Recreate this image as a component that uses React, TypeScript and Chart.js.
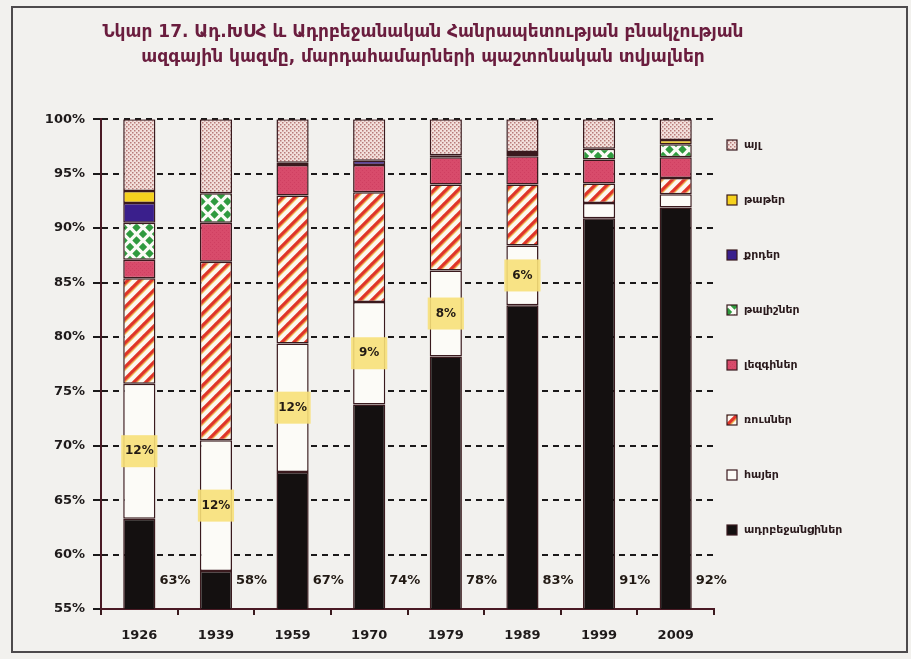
import React, { useEffect, useRef } from "react";
import { Chart, registerables } from "chart.js";

Chart.register(...registerables);

const FONT = "'DejaVu Sans', sans-serif";

const titleLines = [
  "Նկար 17. Ադ.ԽՍՀ և Ադրբեջանական Հանրապետության բնակչության",
  "ազգային կազմը, մարդահամարների պաշտոնական տվյալներ",
];

const years = ["1926", "1939", "1959", "1970", "1979", "1989", "1999", "2009"];

const seriesNames = [
  "ադրբեջանցիներ",
  "հայեր",
  "ռուսներ",
  "լեզգիներ",
  "թալիշներ",
  "քրդեր",
  "թաթեր",
  "այլ",
];

const azerbaijanis = [63.3, 58.5, 67.6, 73.8, 78.2, 82.9, 90.9, 91.9];
const armenians = [12.4, 12.0, 11.8, 9.4, 7.9, 5.5, 1.4, 1.2];
const russians = [9.7, 16.4, 13.6, 10.1, 7.9, 5.6, 1.8, 1.5];
const lezgins = [1.7, 3.6, 2.8, 2.5, 2.5, 2.6, 2.2, 1.9];
const talysh = [3.4, 2.7, null, null, null, 0.2, 1.0, 1.2];
const kurds = [1.8, null, null, 0.4, 0.2, 0.2, null, null];
const tats = [1.1, null, 0.2, null, null, null, null, 0.4];
const others = [6.6, 6.8, 4.0, 3.8, 3.3, 3.0, 2.7, 1.9];

const armenianLabels = ["12%", "12%", "12%", "9%", "8%", "6%", "", ""];
const azerbaijaniLabels = ["63%", "58%", "67%", "74%", "78%", "83%", "91%", "92%"];

const yMin = 55;
const yMax = 100;
const yStep = 5;
const azLabelLevel = 57.6;

export default function App() {
  const ref = useRef<HTMLCanvasElement>(null);

  useEffect(() => {
    const canvas = ref.current!;
    const ctx0 = canvas.getContext("2d")!;

    const makePattern = (
      w: number,
      h: number,
      draw: (g: CanvasRenderingContext2D, w: number, h: number) => void
    ) => {
      const c = document.createElement("canvas");
      c.width = w;
      c.height = h;
      const g = c.getContext("2d")!;
      draw(g, w, h);
      return ctx0.createPattern(c, "repeat")!;
    };

    const stripes = makePattern(12, 12, (g, s) => {
      g.fillStyle = "#fcf8f0";
      g.fillRect(0, 0, s, s);
      g.lineCap = "square";
      for (let k = -1; k <= 1; k++) {
        g.strokeStyle = "#f0b548";
        g.lineWidth = 1.3;
        g.beginPath();
        g.moveTo(k * s + 3, s);
        g.lineTo(k * s + s + 3, 0);
        g.stroke();
        g.strokeStyle = "#df3528";
        g.lineWidth = 3.2;
        g.beginPath();
        g.moveTo(k * s, s);
        g.lineTo(k * s + s, 0);
        g.stroke();
      }
    });

    const diamonds = makePattern(13, 13, (g, s) => {
      g.fillStyle = "#fbfbf6";
      g.fillRect(0, 0, s, s);
      g.fillStyle = "#2f9a3e";
      const dia = (cx: number, cy: number, r: number) => {
        g.beginPath();
        g.moveTo(cx, cy - r);
        g.lineTo(cx + r, cy);
        g.lineTo(cx, cy + r);
        g.lineTo(cx - r, cy);
        g.closePath();
        g.fill();
      };
      const h = s / 2;
      dia(h, h, 4.2);
      dia(0, 0, 4.2);
      dia(s, 0, 4.2);
      dia(0, s, 4.2);
      dia(s, s, 4.2);
    });

    const dots = makePattern(4, 4, (g, s) => {
      g.fillStyle = "#f3e0dc";
      g.fillRect(0, 0, s, s);
      g.fillStyle = "#b77a78";
      g.fillRect(0, 0, 1.5, 1.5);
      g.fillRect(2, 2, 1.5, 1.5);
    });

    const lezginRed = makePattern(4, 4, (g, s) => {
      g.fillStyle = "#d84b6b";
      g.fillRect(0, 0, s, s);
      g.fillStyle = "#cf3f61";
      g.fillRect(0, 0, 1, 1);
      g.fillRect(2, 2, 1, 1);
    });

    const fills: (string | CanvasPattern)[] = [
      "#141010",
      "#fcfbf7",
      stripes,
      lezginRed,
      diamonds,
      "#3a1f8c",
      "#f6d21e",
      dots,
    ];
    const values = [azerbaijanis, armenians, russians, lezgins, talysh, kurds, tats, others];

    const edge = "#3a1a1e";

    const decor = {
      id: "decor",
      beforeDraw(chart: any) {
        const c = chart.ctx;
        c.save();
        c.fillStyle = "#f2f1ee";
        c.fillRect(0, 0, chart.width, chart.height);
        c.strokeStyle = "#4d4a4c";
        c.lineWidth = 2;
        c.strokeRect(12, 7, 895, 645);
        c.restore();
      },
      afterDatasetsDraw(chart: any) {
        const c = chart.ctx;
        const yScale = chart.scales.y;
        c.save();
        const metaA = chart.getDatasetMeta(1);
        metaA.data.forEach((bar: any, i: number) => {
          const t = armenianLabels[i];
          if (!t) return;
          const cy = (bar.y + bar.base) / 2;
          const w = bar.width + 4;
          c.fillStyle = "rgba(247,224,120,0.9)";
          c.fillRect(bar.x - w / 2, cy - 16, w, 32);
          c.fillStyle = "#221a14";
          c.font = `bold 12px ${FONT}`;
          c.textAlign = "center";
          c.textBaseline = "middle";
          c.fillText(t, bar.x, cy);
        });
        const metaZ = chart.getDatasetMeta(0);
        metaZ.data.forEach((bar: any, i: number) => {
          c.fillStyle = "#221a14";
          c.font = `bold 13px ${FONT}`;
          c.textAlign = "left";
          c.textBaseline = "middle";
          c.fillText(azerbaijaniLabels[i], bar.x + bar.width / 2 + 4, yScale.getPixelForValue(azLabelLevel));
        });
        c.restore();
      },
      afterDraw(chart: any) {
        const c = chart.ctx;
        c.save();
        const ds = chart.data.datasets;
        const n = ds.length;
        for (let k = 0; k < n; k++) {
          const d = ds[n - 1 - k];
          const y = 145 + k * 55;
          c.fillStyle = d.backgroundColor;
          c.fillRect(727, y - 5, 10, 10);
          c.strokeStyle = edge;
          c.lineWidth = 1.2;
          c.strokeRect(727, y - 5, 10, 10);
          c.fillStyle = "#2a1a1c";
          c.font = `bold 11px ${FONT}`;
          c.textAlign = "left";
          c.textBaseline = "middle";
          c.fillText(d.label, 744, y);
        }
        c.restore();
      },
    };

    const chart = new Chart(canvas, {
      type: "bar",
      data: {
        labels: years,
        datasets: seriesNames.map((name, i) => ({
          label: name,
          data: values[i] as any,
          backgroundColor: fills[i] as any,
          borderColor: edge,
          borderWidth: 1.5,
          borderSkipped: false,
          barPercentage: 0.42,
          categoryPercentage: 1.0,
        })),
      },
      options: {
        responsive: false,
        animation: false,
        devicePixelRatio: 1,
        layout: { padding: { left: 0, right: 65, top: 0, bottom: 0 } },
        plugins: {
          legend: { display: false },
          tooltip: { enabled: false },
          title: {
            display: true,
            text: titleLines,
            color: "#6a1d3e",
            font: { family: FONT, size: 17, weight: "bold", lineHeight: 1.42 },
            padding: { top: 21, bottom: 50 },
          },
        },
        scales: {
          x: {
            stacked: true,
            grid: {
              display: true,
              drawOnChartArea: false,
              drawTicks: true,
              tickLength: 6,
              offset: true,
              color: "#3a1a1e",
              lineWidth: 2,
            },
            border: { display: true, color: "#4a1a24", width: 2 },
            ticks: {
              color: "#1e1a1a",
              font: { family: FONT, size: 13, weight: "bold" },
              padding: 13,
            },
            afterFit: (s: any) => {
              s.height = 50;
            },
          },
          y: {
            stacked: true,
            min: yMin,
            max: yMax,
            ticks: {
              stepSize: yStep,
              callback: (v: any) => v + "%",
              color: "#1e1a1a",
              font: { family: FONT, size: 13, weight: "bold" },
              padding: 8,
            },
            grid: {
              color: "#1c1a1a",
              lineWidth: 2,
              tickLength: 8,
              drawTicks: true,
            },
            border: { display: true, color: "#4a1a24", width: 2, dash: [6, 5] },
            afterFit: (s: any) => {
              s.width = 101;
            },
          },
          y2: {
            type: "linear",
            position: "right",
            display: true,
            grid: { drawOnChartArea: false, drawTicks: false },
            ticks: { display: false },
            border: { display: false },
            afterFit: (s: any) => {
              s.width = 132;
            },
          },
        },
      },
      plugins: [decor],
    } as any);

    return () => chart.destroy();
  }, []);

  return (
    <div style={{ position: "absolute", left: 0, top: 0, width: 911, height: 659 }}>
      <canvas ref={ref} width={911} height={659} style={{ display: "block" }} />
    </div>
  );
}
